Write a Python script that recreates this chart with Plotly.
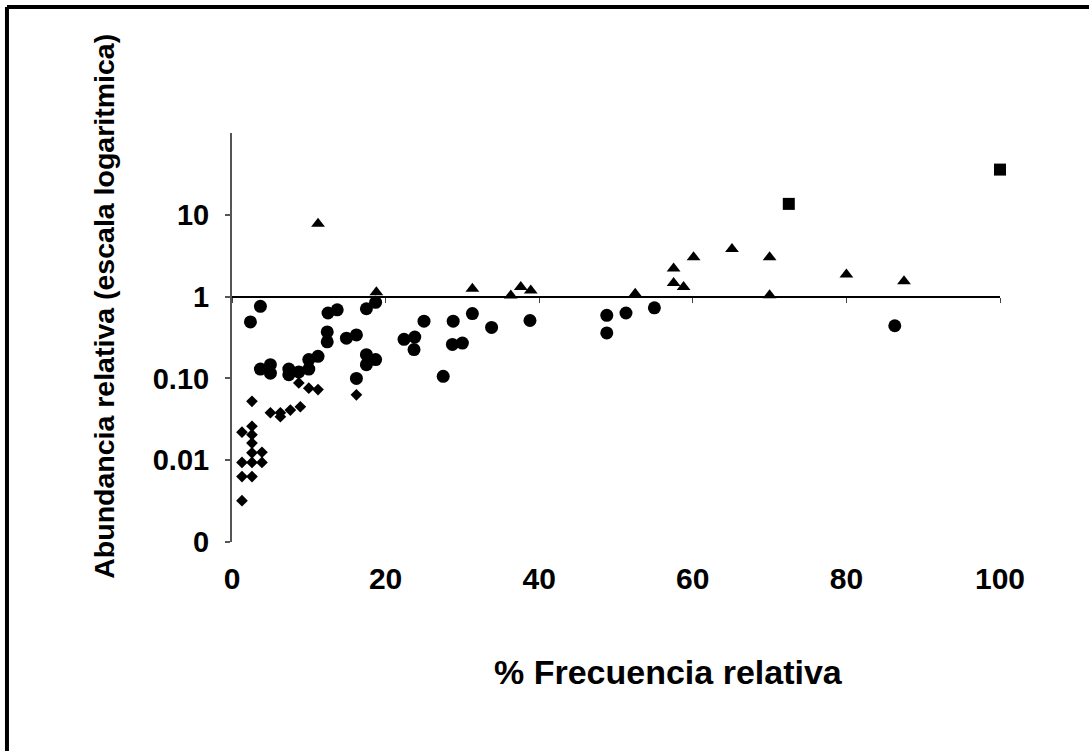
import plotly.graph_objects as go

# rombos
diam_x = [8.7, 10.0, 11.2, 16.2, 2.6, 5.0, 6.3, 6.3, 7.6, 8.9, 1.3, 2.6, 2.6, 2.6, 2.6, 3.9,
          1.3, 2.6, 3.9, 1.3, 2.6, 1.3]
diam_y = [0.088, 0.076, 0.073, 0.063, 0.0525, 0.038, 0.038, 0.034, 0.041, 0.045, 0.022, 0.026,
          0.0205, 0.0162, 0.0123, 0.0125, 0.0094, 0.0094, 0.0094, 0.0063, 0.0063, 0.0032]

# circulos
circ_x = [3.7, 2.4, 12.5, 13.7, 17.5, 18.7, 12.4, 12.4, 14.9, 16.2, 10.0, 11.2, 17.5, 18.7,
          17.5, 3.7, 5.0, 5.0, 7.4, 7.4, 8.7, 10.0, 16.2, 22.4, 23.8, 23.7, 25.0, 28.8, 28.7,
          30.0, 27.5, 31.3, 33.8, 38.8, 48.8, 48.8, 51.3, 55.0, 86.3]
circ_y = [0.76, 0.49, 0.63, 0.69, 0.71, 0.85, 0.37, 0.28, 0.31, 0.34, 0.17, 0.186, 0.195, 0.17,
          0.147, 0.13, 0.147, 0.116, 0.13, 0.111, 0.12, 0.13, 0.10, 0.30, 0.32, 0.225, 0.50,
          0.50, 0.26, 0.27, 0.106, 0.62, 0.42, 0.51, 0.59, 0.36, 0.63, 0.73, 0.44]

# triangulos
tri_x = [11.2, 18.8, 31.3, 36.3, 37.6, 38.9, 52.5, 57.5, 57.5, 58.8, 60.1, 65.1, 70.0, 70.0,
         80.0, 87.5]
tri_y = [7.75, 1.13, 1.25, 1.03, 1.31, 1.19, 1.08, 2.2, 1.47, 1.31, 3.03, 3.83, 3.03, 1.04,
         1.86, 1.54]

# cuadrados
sq_x = [72.5, 100]
sq_y = [13.6, 35.7]

x_ticks = [0, 20, 40, 60, 80, 100]
y_ticks = [0.001, 0.01, 0.1, 1, 10]
y_text = ["0", "0.01", "0.10", "1", "10"]

font = "Liberation Sans, Arial, sans-serif"

fig = go.Figure()
fig.add_trace(go.Scatter(x=diam_x, y=diam_y, mode="markers", cliponaxis=False,
                         marker=dict(symbol="diamond", size=9, color="black")))
fig.add_trace(go.Scatter(x=circ_x, y=circ_y, mode="markers", cliponaxis=False,
                         marker=dict(symbol="circle", size=13, color="black")))
fig.add_trace(go.Scatter(x=tri_x, y=tri_y, mode="markers", cliponaxis=False, xaxis="x2",
                         marker=dict(symbol="triangle-up", size=12, color="black")))
fig.add_trace(go.Scatter(x=sq_x, y=sq_y, mode="markers", cliponaxis=False,
                         marker=dict(symbol="square", size=12, color="black")))

fig.update_layout(
    width=1089, height=751,
    margin=dict(l=232, r=89, t=133, b=209),
    paper_bgcolor="white", plot_bgcolor="white",
    showlegend=False,
    font=dict(family=font, color="black"),
    xaxis=dict(range=[0, 100], tickvals=x_ticks, showline=False, showgrid=False,
               zeroline=False, ticks="", ticklabelstandoff=16,
               tickfont=dict(size=30, family=font, weight="bold")),
    # eje x dibujado en y = 1
    xaxis2=dict(range=[0, 100], overlaying="x", anchor="free", position=0.6,
                tickvals=x_ticks, showticklabels=False, showline=True, linecolor="black",
                linewidth=2, ticks="outside", ticklen=5, tickwidth=1, tickcolor="#444",
                showgrid=False, zeroline=False),
    yaxis=dict(type="log", range=[-3, 2], tickvals=y_ticks, ticktext=y_text,
               showline=True, linecolor="#555", linewidth=2, ticks="outside", ticklen=5,
               tickcolor="#555", tickwidth=2, showgrid=False, zeroline=False,
               ticklabelstandoff=10, tickfont=dict(size=29, family=font, weight="bold")),
)

fig.add_annotation(text="Abundancia relativa (escala logaritmica)", textangle=-90,
                   xref="paper", yref="paper", x=-0.167, y=0.577, showarrow=False,
                   xanchor="center", yanchor="middle",
                   font=dict(size=28.5, family=font, weight="bold"))
fig.add_annotation(text="% Frecuencia relativa", xref="paper", yref="paper",
                   x=0.568, y=-0.318, showarrow=False, xanchor="center", yanchor="middle",
                   font=dict(size=34, family=font, weight="bold"))

# marco de la imagen (solo se ven los bordes superior e izquierdo)
fig.add_shape(type="line", xref="paper", yref="paper", x0=-0.293, x1=-0.293, y0=-0.6, y1=1.308,
              line=dict(color="black", width=4))
fig.add_shape(type="line", xref="paper", yref="paper", x0=-0.293, x1=1.5, y0=1.308, y1=1.308,
              line=dict(color="black", width=4))

# sin margen en el body para que la figura empiece en (0, 0)
fig.write_html("out.html", config={"displayModeBar": False},
               post_script="document.body.style.margin='0px';")
